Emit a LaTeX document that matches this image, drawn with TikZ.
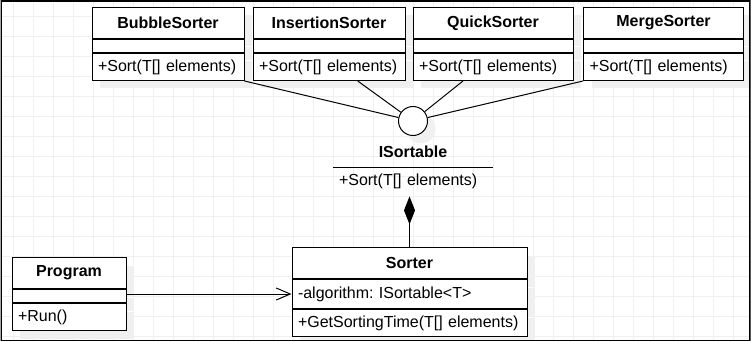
\documentclass[tikz,border=0pt]{standalone}
\usepackage{fontspec}
\setmainfont{Liberation Sans}
\usetikzlibrary{arrows.meta, positioning, shadows}
\definecolor{gridgray}{HTML}{F0F0F0}
\definecolor{shadowgray}{HTML}{F0F0F0}
\newcommand{\umlfont}{\fontsize{16}{19}\selectfont}
\frenchspacing

\begin{document}
\begin{tikzpicture}[
  x=1pt, y=-1pt,
  shade/.style={general shadow={shadow xshift=8pt, shadow yshift=-8pt, fill=shadowgray, draw=none}},
  head/.style={draw, fill=white, line width=1pt, anchor=north, minimum height=31pt, inner sep=0pt, font=\umlfont\bfseries, shade},
  gap/.style={draw, fill=white, line width=1pt, minimum height=13pt, inner sep=0pt, shade},
  ops/.style={draw, fill=white, line width=1pt, minimum height=27pt, inner xsep=6pt, inner ysep=0pt, align=left, text width=#1, font=\umlfont, shade},
  plain/.style={font=\umlfont, align=left, inner xsep=6pt, inner ysep=0pt},
  link/.style={line width=1pt},
  comp/.style={line width=1pt, -{Diamond[length=28pt, width=11pt]}},
  dep/.style={line width=1pt, -{Straight Barb[length=14pt, width=12pt]}}
]
  \useasboundingbox (0,0) rectangle (752,342);
  \clip (0.7,0.7) rectangle (750.7,340.9);

  % Background grid
  \foreach \i in {0,...,36}
    \draw[gridgray, line width=1pt] (13.3+20*\i, 1) -- (13.3+20*\i, 340);
  \foreach \j in {0,...,16}
    \draw[gridgray, line width=1pt] (1, 16.7+20*\j) -- (750, 16.7+20*\j);

  % Sorting strategies
  \node[head, minimum width=152pt] (bubble) at (168,7) {BubbleSorter};
  \node[gap, minimum width=152pt, below=0pt of bubble] (bubblegap) {};
  \node[ops=140pt, below=0pt of bubblegap] (bubbleops) {+Sort(T[] elements)};

  \node[head, minimum width=152pt] (insertion) at (329,7) {InsertionSorter};
  \node[gap, minimum width=152pt, below=0pt of insertion] (insertiongap) {};
  \node[ops=140pt, below=0pt of insertiongap] (insertionops) {+Sort(T[] elements)};

  \node[head, minimum width=160pt] (quick) at (493,7) {QuickSorter};
  \node[gap, minimum width=160pt, below=0pt of quick] (quickgap) {};
  \node[ops=148pt, below=0pt of quickgap] (quickops) {+Sort(T[] elements)};

  \node[head, minimum width=160pt] (merge) at (663.5,7) {MergeSorter};
  \node[gap, minimum width=160pt, below=0pt of merge] (mergegap) {};
  \node[ops=148pt, below=0pt of mergegap] (mergeops) {+Sort(T[] elements)};

  % Interface (lollipop)
  \node[circle, draw, fill=white, line width=1pt, minimum size=29pt, inner sep=0pt, shade] (iface) at (413,121) {};
  \node[font=\umlfont\bfseries, inner sep=0pt] (ifacename) at (413,152) {ISortable};
  \node[plain, text width=148pt, minimum height=29pt, anchor=north] (ifaceops) at (413,167) {+Sort(T[] elements)};
  \draw[link] (ifaceops.north west) -- (ifaceops.north east);

  % Realisations
  \draw[link] (bubbleops.south east) -- (iface);
  \draw[link] (insertionops.-26) -- (iface);
  \draw[link] (quickops.205) -- (iface);
  \draw[link] (mergeops.south west) -- (iface);

  % Context class
  \node[head, minimum width=235pt] (sorter) at (409.5,247) {Sorter};
  \node[ops=223pt, minimum height=29pt, below=0pt of sorter] (sorterattr) {-algorithm: ISortable<T>};
  \node[ops=223pt, below=0pt of sorterattr] (sorterops) {+GetSortingTime(T[] elements)};

  % Client
  \node[head, minimum width=114pt] (program) at (69,257) {Program};
  \node[gap, minimum width=114pt, below=0pt of program] (programgap) {};
  \node[ops=102pt, below=0pt of programgap] (programops) {+Run()};

  % Associations
  \draw[comp] (sorter.north) -- (sorter.north |- ifaceops.south);
  \draw[dep] (programgap.east |- sorterattr.west) -- (sorterattr.west);

  % Frame
  \draw[line width=2.6pt] (0.7,0.7) rectangle (750.7,340.9);

\end{tikzpicture}
\end{document}
